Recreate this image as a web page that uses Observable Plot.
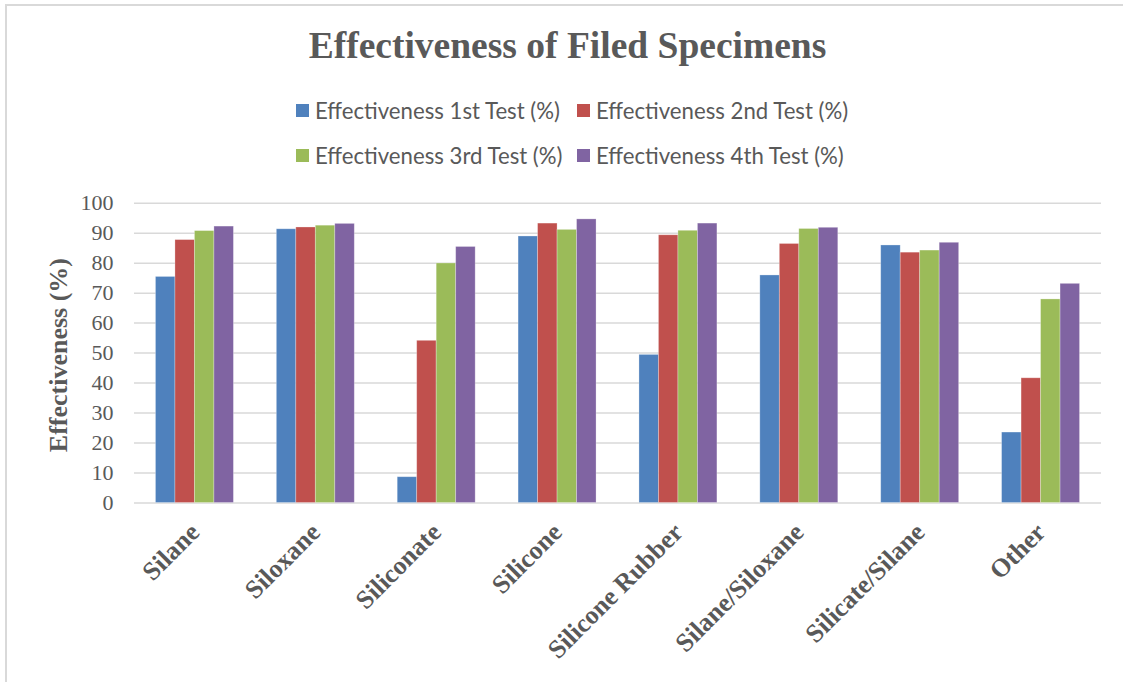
<!DOCTYPE html>
<html>
<head>
<meta charset="utf-8">
<script src="https://cdn.jsdelivr.net/npm/d3@7"></script>
<script src="https://cdn.jsdelivr.net/npm/@observablehq/plot@0.6"></script>
<style>
  html, body { margin: 0; padding: 0; background: #fff; overflow: hidden; }
  body { width: 1123px; height: 682px; position: relative; }
  #frame { position: absolute; left: 5px; top: 4px; width: 1125px; height: 690px;
           border-left: 2px solid #D9D9D9; border-top: 2px solid #D9D9D9; box-sizing: border-box; }
  #title { position: absolute; left: 5px; width: 1125px; top: 24px; text-align: center;
           font-family: "Liberation Serif", serif; font-weight: bold; font-size: 37.5px; color: #595959; line-height: 44px; }
  #legend { position: absolute; left: 296px; top: 99px; font-family: Lato, sans-serif; font-size: 22.2px; color: #595959; }
  .row { display: flex; height: 45px; align-items: flex-start; }
  .item { display: flex; align-items: center; height: 23px; }
  .item.first { width: 281px; }
  .sw { width: 13px; height: 13px; margin-right: 6px; flex: none; }
  .layer { position: absolute; left: 0; top: 180px; }
</style>
</head>
<body>
<div id="frame"></div>
<div id="title">Effectiveness of Filed Specimens</div>
<div id="legend"></div>
<div id="back" class="layer"></div>
<div id="front" class="layer"></div>
<script>
const categories = ["Silane", "Siloxane", "Siliconate", "Silicone", "Silicone Rubber", "Silane/Siloxane", "Silicate/Silane", "Other"];
const seriesNames = ["Effectiveness 1st Test (%)", "Effectiveness 2nd Test (%)", "Effectiveness 3rd Test (%)", "Effectiveness 4th Test (%)"];
const test1 = [75.4, 91.3, 8.6, 88.9, 49.4, 75.9, 85.9, 23.5];
const test2 = [87.7, 91.9, 54.1, 93.2, 89.3, 86.4, 83.5, 41.6];
const test3 = [90.7, 92.5, 79.9, 91.1, 90.8, 91.4, 84.2, 67.9];
const test4 = [92.2, 93.1, 85.4, 94.6, 93.2, 91.8, 86.8, 73.1];
const yTicks = [0, 10, 20, 30, 40, 50, 60, 70, 80, 90, 100];
const colors = ["#4F81BD", "#C0504D", "#9BBB59", "#8064A2"];
const yTitle = "Effectiveness (%)";

const seriesValues = [test1, test2, test3, test4];
const data = [];
categories.forEach((c, i) => {
  seriesNames.forEach((s, j) => data.push({category: c, series: s, value: seriesValues[j][i]}));
});

// legend (2 rows x 2 columns)
const legend = document.getElementById("legend");
for (let r = 0; r < 2; r++) {
  const row = document.createElement("div");
  row.className = "row";
  for (let c = 0; c < 2; c++) {
    const k = r * 2 + c;
    const item = document.createElement("div");
    item.className = "item" + (c === 0 ? " first" : "");
    const sw = document.createElement("span");
    sw.className = "sw";
    sw.style.background = colors[k];
    const t = document.createElement("span");
    t.textContent = seriesNames[k];
    item.appendChild(sw); item.appendChild(t);
    row.appendChild(item);
  }
  legend.appendChild(row);
}

const textColor = "#595959";
const common = {
  width: 1123,
  height: 502,
  marginTop: 22.7,
  marginBottom: 179.5,
  marginLeft: 134,
  marginRight: 22,
  style: {fontFamily: "'Liberation Serif', serif", color: textColor, background: "transparent", overflow: "visible"}
};

// background: gridlines, y tick labels, y title
const back = Plot.plot({
  ...common,
  x: {axis: null},
  y: {domain: [0, 100], axis: null},
  marks: [
    Plot.ruleY(yTicks, {stroke: "#D9D9D9", strokeWidth: 1.5}),
    Plot.text(yTicks, {y: d => d, text: d => String(d), frameAnchor: "left", textAnchor: "end", dx: -21, fontSize: 22, fill: textColor}),
    Plot.text([yTitle], {frameAnchor: "left", textAnchor: "middle", lineAnchor: "middle", dx: -76, dy: 2, rotate: -90, fontSize: 26, fontWeight: "bold", fill: textColor})
  ]
});
document.getElementById("back").appendChild(back);

// front: grouped bars + category axis
const front = Plot.plot({
  ...common,
  fx: {domain: categories, paddingInner: 0.355, paddingOuter: 0.1775, round: false, label: null, axis: null},
  x: {domain: seriesNames, paddingInner: 0, paddingOuter: 0, round: false, axis: null},
  y: {domain: [0, 100], axis: null},
  color: {domain: seriesNames, range: colors},
  marks: [
    Plot.barY(data, {fx: "category", x: "series", y: "value", fill: "series", stroke: "#ffffff", strokeOpacity: 0.35, strokeWidth: 0.8}),
    Plot.axisFx({anchor: "bottom", tickRotate: -45, tickSize: 0, tickPadding: 25, dx: 0, fontSize: 26, fontWeight: "bold", fill: textColor, label: null})
  ]
});
document.getElementById("front").appendChild(front);
</script>
</body>
</html>
